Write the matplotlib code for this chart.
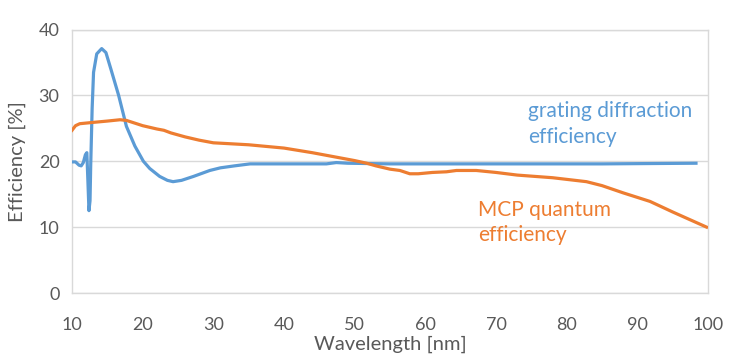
import matplotlib
matplotlib.use("Agg")
import matplotlib.pyplot as plt

grating_x = [10.0, 10.5, 11.0, 11.3, 11.6, 11.9, 12.1, 12.25, 12.4, 12.55, 12.65, 12.85, 13.05,
             13.5, 14.2, 14.8, 15.5, 16.6, 17.7, 18.9, 20.1, 21.0, 22.4, 23.5, 24.3, 25.5,
             27.2, 29.5, 31.0, 33.0, 35.2, 40.0, 46.0, 47.4, 49.0, 55.0, 70.0, 85.0, 98.3]
grating_y = [19.9, 19.9, 19.4, 19.3, 19.8, 21.0, 21.3, 17.0, 12.5, 14.0, 19.5, 28.0, 33.5,
             36.3, 37.1, 36.5, 34.0, 30.0, 25.3, 22.3, 20.0, 18.9, 17.7, 17.1, 16.9, 17.1,
             17.7, 18.6, 19.0, 19.3, 19.6, 19.6, 19.6, 19.8, 19.7, 19.6, 19.6, 19.6, 19.7]

mcp_x = [10.0, 10.5, 11.1, 13.0, 15.0, 16.8, 17.7, 20.0, 22.0, 23.0, 24.0, 26.0, 28.0, 30.0,
         35.0, 40.0, 44.0, 47.0, 50.0, 51.7, 53.0, 55.0, 56.4, 57.8, 59.0, 61.0, 63.0, 64.4,
         67.2, 70.0, 73.0, 78.0, 82.8, 85.0, 88.0, 91.8, 95.0, 99.8]
mcp_y = [24.7, 25.4, 25.7, 25.9, 26.1, 26.3, 26.2, 25.4, 24.9, 24.7, 24.3, 23.7, 23.2, 22.8,
         22.5, 22.0, 21.3, 20.7, 20.1, 19.7, 19.3, 18.8, 18.6, 18.1, 18.1, 18.3, 18.4, 18.6,
         18.6, 18.3, 17.9, 17.5, 16.9, 16.3, 15.2, 13.9, 12.3, 10.0]

x_ticks = [10, 20, 30, 40, 50, 60, 70, 80, 90, 100]
y_ticks = [0, 10, 20, 30, 40]

BLUE = "#5B9BD5"
ORANGE = "#ED7D31"
GRAY = "#595959"
GRID = "#D9D9D9"

plt.rcParams["font.family"] = ["Lato", "DejaVu Sans"]

fig = plt.figure(figsize=(7.39, 3.6), dpi=100)
ax = fig.add_axes([72 / 739, 1 - 293 / 360, (708 - 72) / 739, (293 - 29.5) / 360])

ax.plot(grating_x, grating_y, color=BLUE, lw=2.3, solid_joinstyle="round", zorder=3)
ax.plot(mcp_x, mcp_y, color=ORANGE, lw=2.3, solid_joinstyle="round", zorder=3)

ax.set_xlim(10, 100)
ax.set_ylim(0, 40)
ax.set_xticks(x_ticks)
ax.set_yticks(y_ticks)
ax.yaxis.grid(True, color=GRID, lw=1)
ax.set_axisbelow(True)
for s in ax.spines.values():
    s.set_color(GRID)
    s.set_linewidth(1)
ax.tick_params(length=0, labelsize=13, colors=GRAY)
ax.tick_params(axis="x", pad=17)
ax.tick_params(axis="y", pad=9)
ax.set_xlabel("Wavelength [nm]", fontsize=14.5, color=GRAY, labelpad=2)
ax.set_ylabel("Efficiency [%]", fontsize=14.5, color=GRAY, labelpad=9)

ax.text(528, 360 - 124, "grating diffraction\nefficiency", transform=None, color=BLUE,
        fontsize=15, va="center", ha="left", linespacing=1.32)
ax.text(478, 360 - 222.5, "MCP quantum\nefficiency", transform=None, color=ORANGE,
        fontsize=15, va="center", ha="left", linespacing=1.32)

fig.savefig("out.png", dpi=100)
